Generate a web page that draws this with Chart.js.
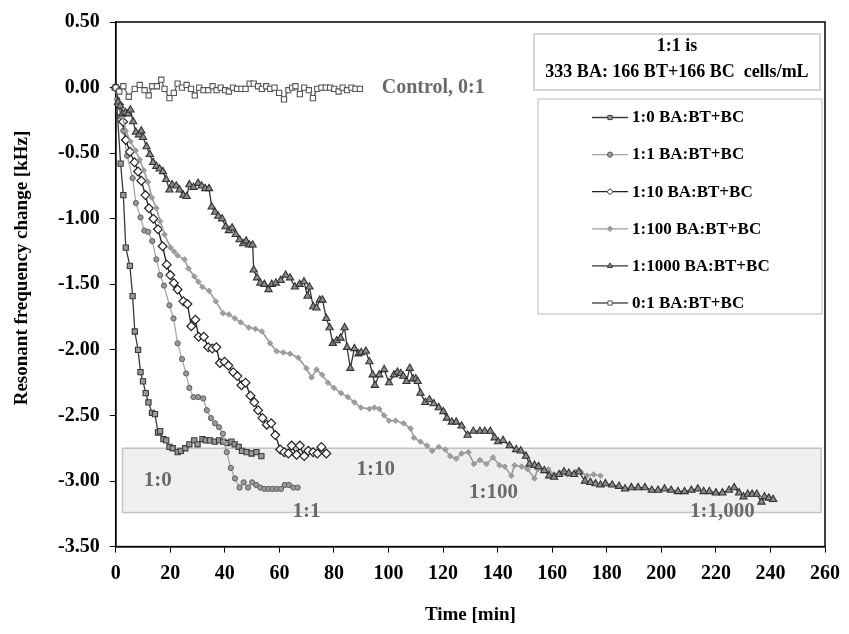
<!DOCTYPE html>
<html><head><meta charset="utf-8">
<script src="https://cdn.jsdelivr.net/npm/chart.js@4.4.1/dist/chart.umd.min.js"></script>
<style>html,body{margin:0;padding:0;background:#fff}#wrap{width:849px;height:634px;position:relative}</style>
</head><body><div id="wrap"><canvas id="c" width="849" height="634"></canvas></div>
<script>
// ---------------- data (time in min, resonant frequency change in kHz) ----------------
const t_1_0 = [0,1.8,2.8,3.7,5.2,6.2,7.0,8.2,9.1,10.0,11.0,12.0,13.3,14.4,15.5,16.3,17.5,18.5,19.7,20.9,22.7,23.9,25.5,27.0,28.8,30.0,31.8,33.0,34.5,36.3,37.9,39.4,40.9,42.4,43.6,45.1,46.3,48.0,49.8,51.6,53.4];
const v_1_0 = [0,-0.58,-0.82,-1.22,-1.36,-1.59,-1.86,-2.00,-2.17,-2.24,-2.33,-2.40,-2.48,-2.49,-2.63,-2.62,-2.68,-2.69,-2.74,-2.75,-2.78,-2.77,-2.75,-2.72,-2.69,-2.72,-2.68,-2.69,-2.69,-2.70,-2.69,-2.70,-2.71,-2.70,-2.72,-2.74,-2.77,-2.78,-2.79,-2.78,-2.81];

const t_1_1 = [0,0.6,1.8,2.8,4.2,6.2,7.4,9.1,10.5,11.9,13.4,14.9,16.3,17.7,19.7,21.2,22.7,24.3,25.8,27.0,28.5,30.2,32.1,33.4,34.9,36.4,37.9,39.3,40.7,42.2,43.7,45.4,46.9,48.5,50.0,51.5,53.0,54.5,56.0,57.5,59.0,60.6,62.0,63.5,65.1,66.7];
const v_1_1 = [0,-0.09,-0.22,-0.33,-0.52,-0.69,-0.88,-0.99,-1.09,-1.10,-1.17,-1.31,-1.43,-1.51,-1.66,-1.76,-1.95,-2.07,-2.18,-2.29,-2.36,-2.36,-2.37,-2.46,-2.52,-2.56,-2.59,-2.64,-2.78,-2.90,-2.98,-3.05,-3.01,-3.05,-3.01,-3.03,-3.05,-3.06,-3.06,-3.06,-3.06,-3.06,-3.03,-3.03,-3.05,-3.05];

const t_1_10 = [0,1.2,2.7,3.7,5.2,6.9,8.2,9.4,10.9,12.2,13.8,15.5,17.2,18.7,20.0,21.3,22.7,24.8,26.3,27.7,29.2,30.4,32.3,33.9,35.4,36.9,38.2,39.9,41.3,43.1,44.6,46.1,47.6,49.4,50.8,52.2,53.8,55.4,57.0,58.5,60.3,61.8,63.3,64.5,66.3,67.5,69.1,70.6,72.4,73.9,75.4,77.2];
const v_1_10 = [0,-0.13,-0.26,-0.40,-0.49,-0.57,-0.64,-0.71,-0.82,-0.92,-1.00,-1.08,-1.21,-1.35,-1.43,-1.49,-1.54,-1.63,-1.65,-1.82,-1.77,-1.90,-1.90,-1.98,-1.99,-1.98,-2.10,-2.09,-2.12,-2.17,-2.20,-2.27,-2.25,-2.35,-2.40,-2.46,-2.52,-2.57,-2.56,-2.65,-2.76,-2.78,-2.79,-2.73,-2.80,-2.73,-2.81,-2.77,-2.78,-2.79,-2.74,-2.79];

const t_1_100 = [0,1.2,2.5,3.7,5.4,7.3,8.8,10.3,11.8,13.3,14.9,16.3,17.9,20.1,21.4,22.7,25.2,26.7,28.8,30.3,31.8,34.2,36.7,39.3,41.5,43.7,45.8,48.8,51.2,53.6,56.6,59.0,61.4,63.9,66.9,69.9,71.8,73.6,75.7,77.8,80.0,82.6,85.1,87.5,89.9,93.0,94.8,96.6,98.4,100.2,102.6,105.5,108.1,109.3,111.7,114.1,116.0,118.4,120.8,122.6,124.8,126.8,129.3,131.3,133.5,135.9,138.3,140.7,142.6,145.0,146.2,148.8,151.0,153.5,154.7,156.7,158.6,160.7,163.1,165.6,168.6,170.5,172.8,175.2,177.7];
const v_1_100 = [0,-0.12,-0.22,-0.33,-0.41,-0.48,-0.55,-0.63,-0.72,-0.84,-0.92,-1.02,-1.12,-1.22,-1.25,-1.28,-1.31,-1.38,-1.44,-1.48,-1.52,-1.55,-1.63,-1.72,-1.73,-1.76,-1.79,-1.83,-1.84,-1.86,-1.95,-2.01,-2.02,-2.03,-2.06,-2.14,-2.21,-2.15,-2.19,-2.25,-2.29,-2.33,-2.36,-2.40,-2.44,-2.45,-2.44,-2.45,-2.50,-2.54,-2.54,-2.56,-2.60,-2.67,-2.70,-2.73,-2.77,-2.74,-2.76,-2.81,-2.83,-2.79,-2.78,-2.87,-2.84,-2.87,-2.82,-2.88,-2.89,-2.96,-2.88,-2.89,-2.91,-2.98,-2.91,-2.92,-2.91,-2.95,-2.94,-2.95,-2.93,-2.93,-2.96,-2.95,-2.96];

const t_1_1000 = [0,0.9,1.7,2.5,3.6,4.5,5.4,6.4,7.4,8.5,9.4,10.0,11.3,12.5,13.7,14.9,16.1,17.3,18.5,19.7,20.7,22.2,23.4,24.8,26.0,27.0,28.5,30.2,31.5,32.8,34.2,35.2,36.4,37.6,39.0,40.3,41.5,42.7,44.0,45.4,46.7,47.8,49.0,50.2,50.6,51.8,53.0,54.5,56.0,57.2,58.7,60.5,62.3,63.9,65.7,67.4,69.0,70.3,71.0,72.4,73.6,74.8,75.8,77.2,78.4,79.6,81.0,82.4,83.9,84.8,86.0,87.5,89.0,90.0,91.7,93.0,94.2,95.0,96.6,98.4,100.2,102.0,103.3,104.5,105.4,106.6,107.8,109.0,110.0,110.7,111.7,113.5,115.0,116.6,118.4,120.1,121.4,123.2,124.8,126.8,129.0,131.1,133.5,135.3,137.3,138.9,140.2,142.0,144.4,146.8,148.5,150.4,151.7,153.5,155.0,157.1,158.9,160.7,162.5,164.3,166.1,168.0,169.8,172.0,174.0,175.9,177.7,179.5,182.0,184.5,186.7,189.0,191.5,194.0,196.5,198.8,201.2,203.6,206.1,208.5,211.0,213.4,215.5,217.6,220.0,222.4,224.8,226.7,228.5,230.1,231.7,233.3,235.0,236.7,237.8,239.4,241.0];
const v_1_1000 = [0,-0.11,-0.14,-0.20,-0.19,-0.20,-0.17,-0.26,-0.34,-0.36,-0.33,-0.38,-0.45,-0.51,-0.57,-0.60,-0.62,-0.64,-0.70,-0.78,-0.74,-0.75,-0.78,-0.82,-0.83,-0.74,-0.76,-0.73,-0.75,-0.77,-0.77,-0.91,-0.95,-0.98,-1.00,-1.06,-1.09,-1.07,-1.12,-1.16,-1.19,-1.17,-1.20,-1.20,-1.39,-1.45,-1.49,-1.50,-1.54,-1.50,-1.49,-1.47,-1.43,-1.45,-1.52,-1.50,-1.48,-1.59,-1.52,-1.67,-1.68,-1.62,-1.62,-1.76,-1.83,-1.95,-1.93,-1.91,-1.83,-1.98,-2.14,-1.99,-2.03,-2.02,-2.01,-2.09,-2.19,-2.27,-2.19,-2.15,-2.25,-2.19,-2.17,-2.18,-2.20,-2.24,-2.14,-2.22,-2.22,-2.24,-2.33,-2.40,-2.38,-2.41,-2.44,-2.47,-2.52,-2.55,-2.55,-2.58,-2.65,-2.62,-2.62,-2.62,-2.62,-2.67,-2.70,-2.69,-2.73,-2.76,-2.77,-2.81,-2.87,-2.88,-2.89,-2.92,-2.96,-2.97,-2.95,-2.93,-2.94,-2.95,-2.93,-3.00,-3.01,-3.02,-3.03,-3.02,-3.03,-3.04,-3.06,-3.05,-3.05,-3.05,-3.07,-3.07,-3.06,-3.07,-3.08,-3.08,-3.07,-3.06,-3.08,-3.08,-3.09,-3.09,-3.07,-3.05,-3.09,-3.12,-3.10,-3.10,-3.10,-3.16,-3.12,-3.13,-3.14];

const t_0_1 = [0,1.3,2.8,4.8,7.0,8.8,10.6,12.1,13.4,15.1,16.7,17.9,19.7,21.3,22.7,24.3,26.0,27.6,29.0,30.6,32.2,33.9,35.5,37.0,38.5,40.1,41.5,43.0,44.5,46.1,47.6,49.1,50.6,52.2,53.6,55.2,56.6,58.2,59.9,61.7,63.3,64.7,65.9,67.5,69.1,70.8,72.3,73.9,75.4,77.0,78.6,80.1,81.7,83.2,84.8,86.4,87.9,89.5];
const v_0_1 = [0,-0.03,0.01,-0.07,-0.01,0.02,-0.02,-0.06,0.01,0.01,0.06,-0.01,-0.08,-0.04,0.03,0.00,0.02,-0.01,-0.06,0.00,-0.02,-0.02,0.01,-0.02,0.00,-0.02,-0.03,0.00,-0.01,-0.01,-0.01,0.03,0.03,0.01,-0.01,0.01,-0.01,0.00,-0.04,-0.09,-0.02,0.00,0.01,-0.05,0.00,-0.02,-0.08,-0.01,0.00,0.00,0.00,-0.01,-0.03,0.00,-0.02,0.00,-0.01,-0.01];

const seriesNames = ['1:0 BA:BT+BC','1:1 BA:BT+BC','1:10 BA:BT+BC','1:100 BA:BT+BC','1:1000 BA:BT+BC','0:1 BA:BT+BC'];
const xTicks = {min:0, max:260, step:20};
const yTicks = {min:-3.5, max:0.5, step:0.5};
const xTitle = 'Time [min]';
const yTitle = 'Resonant frequency change [kHz]';
const noteLines = ['1:1 is','333 BA: 166 BT+166 BC  cells/mL'];
// shaded "plateau" band (data units) and its labels
const bandT = [2.5, 258.6];
const bandV = [-2.75, -3.24];
const bandLabels = ['1:0','1:1','1:10','1:100','1:1,000','Control, 0:1'];
const bandLabelT = [15.4, 69.9, 95.3, 138.5, 222.4, 97.5];
const bandLabelV = [-3.00, -3.23, -2.91, -3.09, -3.23, -0.005];

// ---------------- chart ----------------
const FONT = "'Liberation Serif','Times New Roman',serif";
const pts = (t, v) => t.map((x, i) => ({x: x, y: v[i]}));

const styles = [
  {line:'#3a3a3a', bg:'#9a9a9a', bd:'#3a3a3a', ps:'rect',     r:3.7, bw:1.1, lw:1.3},
  {line:'#a8a8a8', bg:'#9a9a9a', bd:'#5e5e5e', ps:'circle',   r:2.6, bw:1.0, lw:1.3},
  {line:'#222222', bg:'#ffffff', bd:'#222222', ps:'rectRot',  r:4.4, bw:1.2, lw:1.3},
  {line:'#9c9c9c', bg:'#9c9c9c', bd:'#9c9c9c', ps:'rectRot',  r:2.8, bw:1.0, lw:1.6},
  {line:'#333333', bg:'#8a8a8a', bd:'#333333', ps:'triangle', r:4.2, bw:1.1, lw:1.3},
  {line:'#555555', bg:'#ffffff', bd:'#555555', ps:'rect',     r:3.7, bw:1.1, lw:1.2}
];
const seriesData = [pts(t_1_0,v_1_0), pts(t_1_1,v_1_1), pts(t_1_10,v_1_10), pts(t_1_100,v_1_100), pts(t_1_1000,v_1_1000), pts(t_0_1,v_0_1)];

const datasets = seriesData.map((d, i) => ({
  label: seriesNames[i], data: d, showLine: true, clip: false,
  borderColor: styles[i].line, borderWidth: styles[i].lw,
  pointStyle: styles[i].ps, pointRadius: styles[i].r, pointHoverRadius: styles[i].r,
  pointBackgroundColor: styles[i].bg, pointBorderColor: styles[i].bd, pointBorderWidth: styles[i].bw,
  tension: 0, order: 6 - i
}));

const decor = {
  id: 'decor',
  beforeDatasetsDraw(chart) {
    const {ctx, chartArea: ca, scales: {x, y}} = chart;
    ctx.save();
    const x0 = x.getPixelForValue(bandT[0]), x1 = x.getPixelForValue(bandT[1]);
    const y0 = y.getPixelForValue(bandV[0]), y1 = y.getPixelForValue(bandV[1]);
    ctx.fillStyle = '#efefef';
    ctx.fillRect(x0, y0, x1 - x0, y1 - y0);
    ctx.strokeStyle = '#c4c4c4'; ctx.lineWidth = 1.5;
    ctx.strokeRect(x0, y0, x1 - x0, y1 - y0);
    ctx.fillStyle = '#6a6a6a';
    ctx.font = 'bold 21px ' + FONT;
    ctx.textBaseline = 'middle';
    bandLabels.forEach((s, i) => {
      const px = x.getPixelForValue(bandLabelT[i]), py = y.getPixelForValue(bandLabelV[i]);
      if (i === bandLabels.length - 1) { ctx.font = 'bold 20px ' + FONT; ctx.textAlign = 'left'; }
      else ctx.textAlign = 'center';
      ctx.fillText(s, px, py);
    });
    ctx.strokeStyle = '#000'; ctx.lineWidth = 1.5;
    ctx.strokeRect(ca.left, ca.top, ca.right - ca.left, ca.bottom - ca.top);
    ctx.save();
    ctx.translate(22, 268); ctx.rotate(-Math.PI / 2);
    ctx.fillStyle = '#000'; ctx.font = 'bold 19px ' + FONT;
    ctx.textAlign = 'center'; ctx.textBaseline = 'middle';
    ctx.fillText(yTitle, 0, 0);
    ctx.restore();
    ctx.restore();
  },
  afterDraw(chart) {
    const {ctx} = chart;
    ctx.save();
    ctx.strokeStyle = '#c8c8c8'; ctx.lineWidth = 1.5;
    ctx.fillStyle = '#fff';
    ctx.fillRect(534, 34, 286, 56); ctx.strokeRect(534, 34, 286, 56);
    ctx.fillStyle = '#000'; ctx.font = 'bold 18px ' + FONT;
    ctx.textAlign = 'center'; ctx.textBaseline = 'middle';
    ctx.fillText(noteLines[0], 677, 46);
    ctx.fillText(noteLines[1], 677, 72);
    ctx.fillStyle = '#fff';
    ctx.fillRect(538, 99, 284, 215); ctx.strokeStyle = '#d0d0d0'; ctx.strokeRect(538, 99, 284, 215);
    ctx.textAlign = 'left';
    chart.data.datasets.forEach((ds, i) => {
      const yy = 117.5 + i * 37.1;
      ctx.strokeStyle = ds.borderColor; ctx.lineWidth = 1.3;
      ctx.beginPath(); ctx.moveTo(592, yy); ctx.lineTo(628, yy); ctx.stroke();
      ctx.fillStyle = ds.pointBackgroundColor; ctx.strokeStyle = ds.pointBorderColor; ctx.lineWidth = 1;
      Chart.helpers.drawPoint(ctx, {pointStyle: ds.pointStyle, radius: Math.min(ds.pointRadius, 3), rotation: 0, borderWidth: 1}, 610, yy);
      ctx.fillStyle = '#000'; ctx.font = 'bold 17px ' + FONT;
      ctx.fillText(ds.label, 632, yy + 0.5);
    });
    ctx.restore();
  }
};

const tickFont = {family: FONT, size: 20, weight: 'bold'};
new Chart(document.getElementById('c'), {
  type: 'scatter',
  data: {datasets},
  options: {
    responsive: false, animation: false, devicePixelRatio: 1,
    layout: {padding: {left: 0, right: 17, top: 19, bottom: 0}},
    plugins: {legend: {display: false}, tooltip: {enabled: false}},
    scales: {
      x: {
        type: 'linear', min: xTicks.min, max: xTicks.max,
        ticks: {stepSize: xTicks.step, font: tickFont, color: '#000', padding: 9, maxRotation: 0},
        grid: {drawOnChartArea: false, drawTicks: true, tickLength: 6, color: '#000', lineWidth: 1},
        border: {display: true, color: '#000', width: 1.5},
        title: {display: true, text: xTitle, font: {family: FONT, size: 19, weight: 'bold'}, color: '#000', padding: {top: 0, bottom: 8}},
        afterFit: s => { s.height = 87.4; }
      },
      y: {
        type: 'linear', min: yTicks.min, max: yTicks.max,
        ticks: {stepSize: yTicks.step, font: tickFont, color: '#000', padding: 10, callback: v => v.toFixed(2)},
        grid: {drawOnChartArea: false, drawTicks: true, tickLength: 6, color: '#000', lineWidth: 1},
        border: {display: true, color: '#000', width: 1.5},
        title: {display: false, text: yTitle},
        afterFit: s => { s.width = 115.7; }
      }
    }
  },
  plugins: [decor]
});
</script></body></html>
